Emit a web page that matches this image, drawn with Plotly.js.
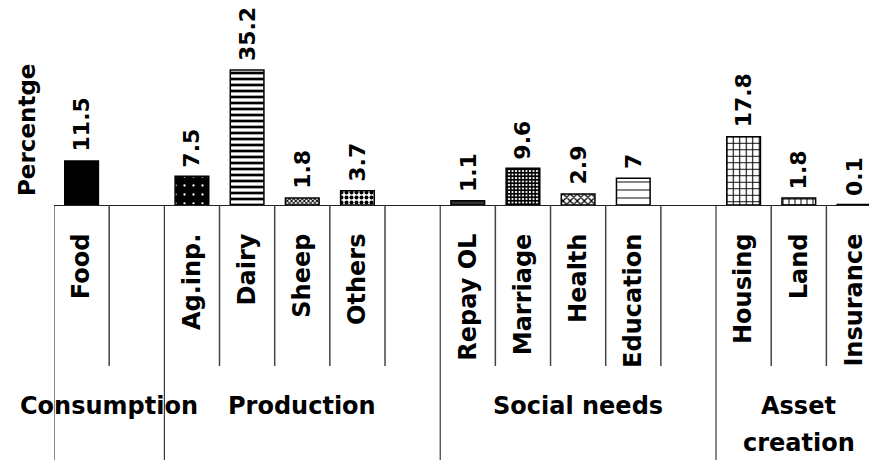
<!DOCTYPE html>
<html>
<head>
<meta charset="utf-8">
<script src="https://cdn.plot.ly/plotly-3.0.1.min.js"></script>
<style>html,body{margin:0;padding:0;background:#fff;}#chart{width:869px;height:460px;}</style>
</head>
<body>
<div id="chart"></div>
<script>
// ---- data ----
const categories = ['Food', '', 'Ag.inp.', 'Dairy', 'Sheep', 'Others', '', 'Repay OL', 'Marriage', 'Health', 'Education', '', 'Housing', 'Land', 'Insurance'];
const values = [11.5, null, 7.5, 35.2, 1.8, 3.7, null, 1.1, 9.6, 2.9, 7, null, 17.8, 1.8, 0.1];
const groupNames = ['Consumption', 'Production', 'Social needs', 'Asset<br>creation'];
const groupFirst = [0, 2, 7, 12];
const groupLast = [1, 6, 11, 14];
const yTitle = 'Percentge';

// ---- styles ----
const patShape = ['', '', '.', '-', 'x', '.', '', '', '+', 'x', '-', '', '+', '+', ''];
const patFg = ['black', 'black', 'white', 'black', 'black', 'black', 'black', '#333', 'black', 'black', 'black', 'black', 'black', 'black', 'white'];
const patBg = ['black', 'white', 'black', 'white', 'white', 'white', 'white', '#333', 'white', 'white', 'white', 'white', 'white', 'white', 'white'];
const patSize = [8, 8, 9, 6, 3, 5, 8, 8, 3.5, 5, 8, 8, 6.5, 6, 8];
const patSolid = [0.3, 0.3, 0.05, 0.45, 0.55, 0.5, 0.3, 0.3, 0.7, 0.45, 0.12, 0.3, 0.3, 0.3, 0.3];

const FONT = 'DejaVu Sans';
const xs = categories.map((c, i) => i);
const slotPx = 55.17;
const leftM = 54;
const W = 869, H = 460;
const plotTop = 10, axisY = 205;
const plotH = axisY - plotTop;
const pxPerUnit = 3.835;

const traces = [];
values.forEach((v, i) => {
  if (v === null) return;
  const m = {color: patShape[i] ? patFg[i] : patBg[i], line: {color: 'black', width: 1.5}};
  if (patShape[i]) {
    m.pattern = {shape: patShape[i], fgcolor: patFg[i], bgcolor: patBg[i], size: patSize[i], solidity: patSolid[i], fillmode: 'replace'};
  }
  traces.push({
    type: 'bar', x: [xs[i]], y: [v], width: 0.61, marker: m,
    hoverinfo: 'skip', showlegend: false, cliponaxis: false, name: categories[i]
  });
});

const annotations = [];
values.forEach((v, i) => {
  if (v === null) return;
  annotations.push({
    x: xs[i], y: v, xref: 'x', yref: 'y', text: String(v), showarrow: false,
    textangle: -90, xanchor: 'center', yanchor: 'bottom', yshift: 7,
    font: {family: FONT, size: 22, weight: 'bold', color: 'black'}
  });
});
groupNames.forEach((g, k) => {
  g.split('<br>').forEach((line, j) => {
    annotations.push({
      x: (groupFirst[k] + groupLast[k]) / 2, xref: 'x',
      y: (axisY - 390) / plotH, yref: 'paper', yanchor: 'top', xanchor: 'center',
      yshift: -37 * j,
      text: line, showarrow: false,
      font: {family: FONT, size: 24, weight: 'bold', color: 'black'}
    });
  });
});
annotations.push({
  xref: 'paper', x: 0, xanchor: 'right', xshift: -12,
  yref: 'paper', y: (axisY - 130) / plotH, yanchor: 'middle',
  text: yTitle, textangle: -90, showarrow: false,
  font: {family: FONT, size: 23, weight: 'bold', color: 'black'}
});

const shapes = [];
for (let i = 0; i < categories.length; i++) {
  const major = groupFirst.includes(i);
  shapes.push({
    type: 'line', xref: 'x', yref: 'paper',
    x0: i - 0.5, x1: i - 0.5, y0: 0,
    y1: major ? -(H - axisY + 10) / plotH : -(366 - axisY) / plotH,
    line: {color: major ? '#111' : '#444', width: major ? 1 : 1.5}
  });
}

const layout = {
  width: W, height: H,
  margin: {l: leftM, r: 0, t: plotTop, b: H - axisY, pad: 0},
  paper_bgcolor: 'white', plot_bgcolor: 'white',
  font: {family: FONT, color: 'black'},
  barmode: 'overlay',
  xaxis: {
    type: 'linear',
    range: [-0.5, -0.5 + (W - leftM) / slotPx],
    tickmode: 'array', tickvals: xs, ticktext: categories,
    tickangle: -90, ticks: '', ticklabelstandoff: 18,
    tickfont: {family: FONT, size: 24, weight: 'bold', color: 'black'},
    showline: true, linecolor: '#222', linewidth: 1,
    showgrid: false, zeroline: false, fixedrange: true
  },
  yaxis: {
    range: [0, plotH / pxPerUnit],
    visible: false, fixedrange: true
  },
  shapes: shapes,
  annotations: annotations,
  showlegend: false
};

Plotly.newPlot('chart', traces, layout, {displayModeBar: false, staticPlot: true});
</script>
</body>
</html>
